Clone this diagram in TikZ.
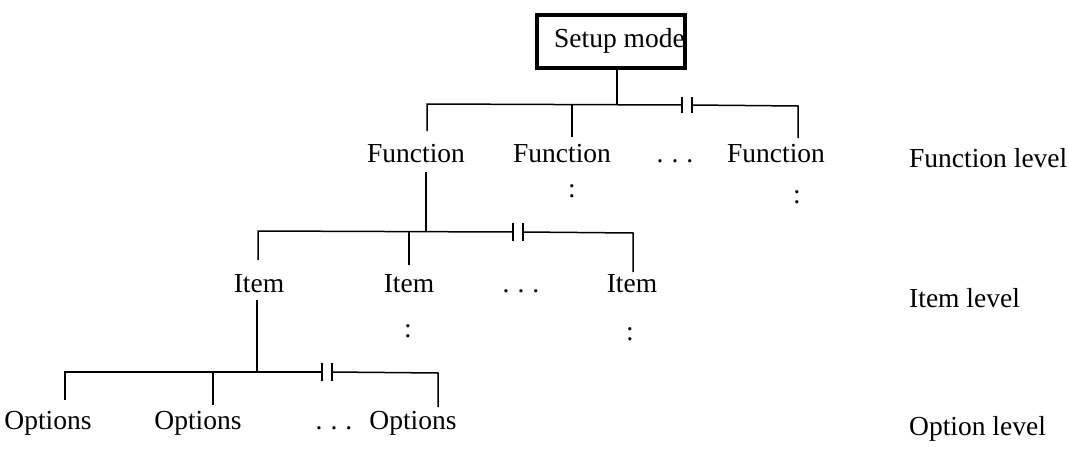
\documentclass[tikz,border=0pt]{standalone}
\usepackage{fontspec}
\setmainfont{Liberation Serif}
\begin{document}
\begin{tikzpicture}[x=1pt,y=-1pt,
  lbl/.style={font=\fontsize{27.5}{32}\selectfont, inner sep=0pt, anchor=base},
  conn/.style={line width=1.5pt, line cap=butt},
  brk/.style={line width=1.5pt},
  topbox/.style={draw, line width=4pt, minimum width=146pt, minimum height=53pt, inner xsep=0pt, font=\fontsize{27.5}{32}\selectfont, anchor=center}]
\useasboundingbox (0,0) rectangle (1069,458);
% ---- top node
\node[topbox] (setup) at (611,41) {\hspace*{17pt}Setup mode};
% ---- function level
\node[lbl] (f1) at (416,162) {Function};
\node[lbl] (f2) at (562,162) {Function};
\node[lbl] (fd) at (675,162) {.\hspace{8pt}.\hspace{8pt}.};
\node[lbl] (f3) at (776,162) {Function};
\node[lbl] (fc2) at (572,197) {:};
\node[lbl] (fc3) at (797,203) {:};
\node[lbl, anchor=base west] (lf) at (909,167) {Function level};
% ---- item level
\node[lbl] (i1) at (259,292) {Item};
\node[lbl] (i2) at (409,292) {Item};
\node[lbl] (id) at (521,292) {.\hspace{8pt}.\hspace{8pt}.};
\node[lbl] (i3) at (632,292) {Item};
\node[lbl] (ic2) at (408,337) {:};
\node[lbl] (ic3) at (630,340) {:};
\node[lbl, anchor=base west] (li) at (909,307) {Item level};
% ---- option level
\node[lbl] (o1) at (48,429) {Options};
\node[lbl] (o2) at (198,429) {Options};
\node[lbl] (od) at (334,429) {.\hspace{8pt}.\hspace{8pt}.};
\node[lbl] (o3) at (413,429) {Options};
\node[lbl, anchor=base west] (lo) at (909,435) {Option level};
% ---- coordinates level 1
\coordinate (s1) at (617,104);
\coordinate (a1) at (427,104);
\coordinate (a2) at (572,104);
\coordinate (k1) at (682,105);
\coordinate (k2) at (692,105);
\coordinate (a3) at (798,106);
\coordinate (d1) at (427,131);
\coordinate (d2) at (572,137);
\coordinate (d3) at (798,138);
\draw[conn] (setup.south -| s1) -- (s1);
\draw[conn] (d1) -- (a1) -- (k1);
\draw[conn] (k2) -- (a3) -- (d3);
\draw[conn] (a2) -- (d2);
\draw[brk] ([yshift=-8pt]k1) -- ([yshift=8pt]k1);
\draw[brk] ([yshift=-8pt]k2) -- ([yshift=8pt]k2);
% ---- coordinates level 2
\coordinate (t2) at (426,172);
\coordinate (s2) at (426,232);
\coordinate (b1) at (258,231);
\coordinate (b2) at (409,232);
\coordinate (m1) at (513,232);
\coordinate (m2) at (523,232);
\coordinate (b3) at (633,233);
\coordinate (e1) at (258,260);
\coordinate (e2) at (409,265);
\coordinate (e3) at (633,272);
\draw[conn] (t2) -- (s2);
\draw[conn] (e1) -- (b1) -- (m1);
\draw[conn] (m2) -- (b3) -- (e3);
\draw[conn] (b2) -- (e2);
\draw[brk] ([yshift=-9pt]m1) -- ([yshift=9pt]m1);
\draw[brk] ([yshift=-9pt]m2) -- ([yshift=9pt]m2);
% ---- coordinates level 3
\coordinate (t3) at (257,300);
\coordinate (s3) at (257,372);
\coordinate (c1) at (65,372);
\coordinate (c2) at (213,372);
\coordinate (n1) at (322,372);
\coordinate (n2) at (332,372);
\coordinate (c3) at (438,373);
\coordinate (g1) at (65,400);
\coordinate (g2) at (213,405);
\coordinate (g3) at (438,407);
\draw[conn] (t3) -- (s3);
\draw[conn] (g1) -- (c1) -- (n1);
\draw[conn] (n2) -- (c3) -- (g3);
\draw[conn] (c2) -- (g2);
\draw[brk] ([yshift=-9pt]n1) -- ([yshift=9pt]n1);
\draw[brk] ([yshift=-9pt]n2) -- ([yshift=9pt]n2);
\end{tikzpicture}
\end{document}
